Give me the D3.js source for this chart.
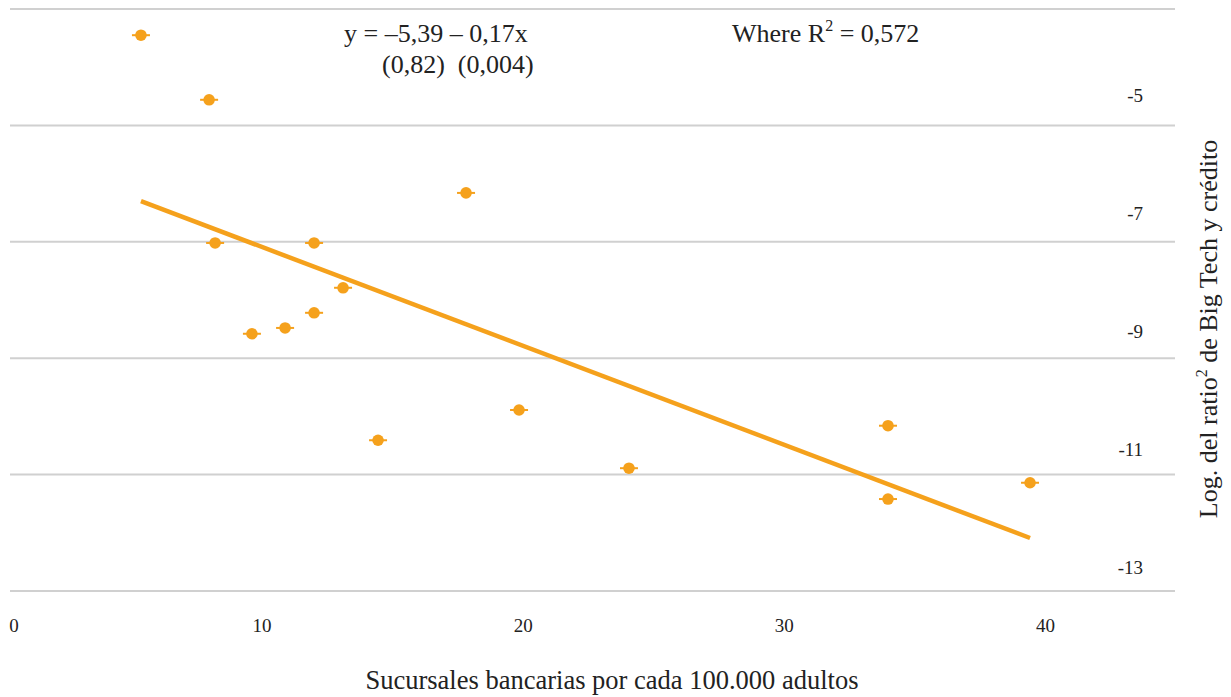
<!DOCTYPE html>
<html>
<head>
<meta charset="utf-8">
<script src="https://cdn.jsdelivr.net/npm/d3@7"></script>
<style>
  html, body { margin: 0; padding: 0; background: #fff; }
  svg { display: block; }
  text { font-family: "Liberation Serif", "DejaVu Serif", serif; fill: #222; }
</style>
</head>
<body>
<svg id="chart" width="1231" height="697"></svg>
<script>
// ---- data ----
const branches = [5.36, 7.97, 8.20, 9.61, 10.88, 11.99, 11.99, 13.10, 14.44, 17.81, 19.84, 24.05, 33.97, 33.97, 39.41];
const logRatio = [-3.45, -4.56, -7.02, -8.58, -8.48, -7.02, -8.22, -7.79, -10.41, -6.16, -9.89, -10.89, -10.16, -11.42, -11.14];
const intercept = -5.39;
const slope = -0.17;
const xTicks = [0, 10, 20, 30, 40];
const yGrid = [-3, -5, -7, -9, -11, -13];
const yTickLabels = [-5, -7, -9, -11, -13];
const xTitle = "Sucursales bancarias por cada 100.000 adultos";
const eqLine1 = "y = –5,39 – 0,17x";
const eqLine2 = "(0,82)  (0,004)";

const color = "#F5A11C";
const svg = d3.select("#chart");
const x = d3.scaleLinear().domain([0, 45]).range([1, 1176]);
const y = d3.scaleLinear().domain([-13, -3]).range([591, 9]);
const gridX0 = 10, gridX1 = 1175;

// gridlines
svg.append("g").selectAll("line").data(yGrid).join("line")
  .attr("x1", gridX0).attr("x2", gridX1)
  .attr("y1", d => y(d)).attr("y2", d => y(d))
  .attr("stroke", "#d0d0d0").attr("stroke-width", 2);

// y tick labels (placed above their gridlines, right side)
svg.append("g").selectAll("text").data(yTickLabels).join("text")
  .attr("x", 1143).attr("y", d => y(d) - 23 - (d + 5) * 0.69)
  .attr("text-anchor", "end")
  .style("font-size", "19px")
  .text(d => d);

// x tick labels
svg.append("g").selectAll("text").data(xTicks).join("text")
  .attr("x", d => d === 0 ? 14 : x(d)).attr("y", 632)
  .attr("text-anchor", "middle")
  .style("font-size", "19px")
  .text(d => d);

// x title
svg.append("text").attr("x", 612).attr("y", 689)
  .attr("text-anchor", "middle").style("font-size", "26.5px").text(xTitle);

// y title (rotated)
const yt = svg.append("text")
  .attr("transform", "translate(1217,329) rotate(-90)")
  .attr("text-anchor", "middle").style("font-size", "26px");
yt.append("tspan").text("Log. del ratio");
yt.append("tspan").attr("dy", -10).style("font-size", "16px").text("2");
yt.append("tspan").attr("dy", 10).text(" de Big Tech y crédito");

// regression line
const xMin = d3.min(branches), xMax = d3.max(branches);
svg.append("line")
  .attr("x1", x(xMin)).attr("y1", y(intercept + slope * xMin))
  .attr("x2", x(xMax)).attr("y2", y(intercept + slope * xMax))
  .attr("stroke", color).attr("stroke-width", 4.5);

// points
const pts = svg.append("g").selectAll("g").data(branches.map((b, i) => [b, logRatio[i]])).join("g")
  .attr("transform", d => `translate(${x(d[0])},${y(d[1])})`);
pts.append("line").attr("x1", -9).attr("x2", 9).attr("y1", 0).attr("y2", 0)
  .attr("stroke", color).attr("stroke-width", 2);
pts.append("circle").attr("r", 5.8).attr("fill", color);

// equation annotation
svg.append("text").attr("x", 344).attr("y", 42).style("font-size", "26px").text(eqLine1);
svg.append("text").attr("x", 382).attr("y", 73).style("font-size", "26px")
  .style("white-space", "pre").text(eqLine2);
const r2 = svg.append("text").attr("x", 732).attr("y", 42).style("font-size", "26px");
r2.append("tspan").text("Where R");
r2.append("tspan").attr("dy", -11).style("font-size", "16px").text("2");
r2.append("tspan").attr("dy", 11).text(" = 0,572");
</script>
</body>
</html>
